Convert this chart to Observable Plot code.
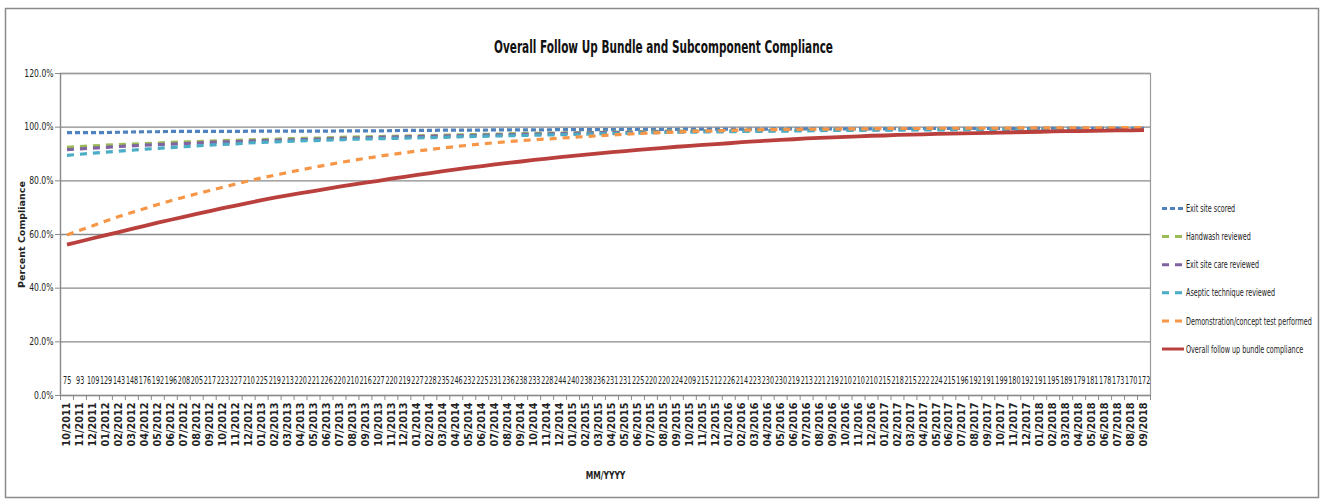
<!DOCTYPE html>
<html><head><meta charset="utf-8">
<script src="https://cdn.jsdelivr.net/npm/d3@7"></script>
<script src="https://cdn.jsdelivr.net/npm/@observablehq/plot@0.6"></script>
<style>html,body{margin:0;padding:0;background:#fff} svg{display:block}</style>
</head><body><div id="chart"></div>
<script>
const months = ["10/2011","11/2011","12/2011",
"01/2012","02/2012","03/2012","04/2012","05/2012","06/2012","07/2012","08/2012","09/2012","10/2012","11/2012","12/2012",
"01/2013","02/2013","03/2013","04/2013","05/2013","06/2013","07/2013","08/2013","09/2013","10/2013","11/2013","12/2013",
"01/2014","02/2014","03/2014","04/2014","05/2014","06/2014","07/2014","08/2014","09/2014","10/2014","11/2014","12/2014",
"01/2015","02/2015","03/2015","04/2015","05/2015","06/2015","07/2015","08/2015","09/2015","10/2015","11/2015","12/2015",
"01/2016","02/2016","03/2016","04/2016","05/2016","06/2016","07/2016","08/2016","09/2016","10/2016","11/2016","12/2016",
"01/2017","02/2017","03/2017","04/2017","05/2017","06/2017","07/2017","08/2017","09/2017","10/2017","11/2017","12/2017",
"01/2018","02/2018","03/2018","04/2018","05/2018","06/2018","07/2018","08/2018","09/2018"];

const counts = [75,93,109,129,143,148,176,192,196,208,205,217,223,227,210,225,219,213,220,221,226,220,210,216,227,220,219,227,228,235,246,232,225,231,236,238,233,228,244,240,238,236,231,231,225,220,220,224,209,215,212,226,214,223,230,230,219,213,221,219,210,210,210,215,218,215,222,224,215,196,192,191,199,180,192,191,195,189,179,181,178,173,170,172];

const exitSiteScored = [98.0,98.0,98.0,98.0,98.1,98.2,98.3,98.3,98.4,98.4,98.4,98.4,98.4,98.4,98.5,98.5,98.5,98.5,98.5,98.5,98.5,98.6,98.6,98.6,98.6,98.7,98.8,98.8,98.8,98.9,98.9,98.9,98.9,99.0,99.0,99.0,99.0,99.0,99.1,99.1,99.1,99.1,99.1,99.2,99.2,99.2,99.2,99.2,99.3,99.3,99.3,99.3,99.3,99.3,99.3,99.4,99.4,99.4,99.4,99.4,99.4,99.4,99.4,99.4,99.5,99.5,99.5,99.5,99.5,99.5,99.5,99.5,99.5,99.5,99.5,99.6,99.6,99.6,99.6,99.6,99.6,99.6,99.6,99.6];

const handwashReviewed = [92.5,92.8,93.0,93.3,93.5,93.7,93.9,94.1,94.3,94.5,94.6,94.8,95.0,95.1,95.3,95.4,
95.5,95.7,95.8,95.9,96.0,96.2,96.3,96.4,96.5,96.6,96.7,96.8,96.9,97.0,97.1,
97.2,97.3,97.4,97.5,97.6,97.7,97.8,97.8,97.9,98.0,98.1,98.2,98.2,98.3,98.4,
98.5,98.5,98.6,98.6,98.7,98.7,98.8,98.8,98.9,98.9,99.0,99.0,99.0,99.1,
99.1,99.1,99.2,99.2,99.2,99.2,99.3,99.3,99.3,99.3,99.4,99.4,99.4,99.4,99.4,99.5,99.5,99.5,99.5,99.5,99.5,99.6,99.6,99.6];

const exitSiteCareReviewed = [91.6,91.9,92.2,92.5,92.8,93.0,93.3,93.5,93.7,93.9,94.1,94.3,94.5,94.6,94.8,94.9,
95.1,95.2,95.4,95.5,95.6,95.8,95.9,96.0,96.2,96.3,96.4,96.5,96.6,96.7,96.8,
96.9,97.0,97.1,97.2,97.3,97.4,97.5,97.6,97.7,97.8,97.9,98.0,98.0,98.1,98.2,
98.3,98.3,98.4,98.4,98.5,98.5,98.6,98.6,98.7,98.7,98.8,98.8,98.9,98.9,
99.0,99.0,99.0,99.1,99.1,99.1,99.2,99.2,99.2,99.2,99.3,99.3,99.3,99.3,99.3,99.4,99.4,99.4,99.4,99.4,99.4,99.5,99.5,99.5];

const asepticTechniqueReviewed = [89.5,89.9,90.3,90.7,91.1,91.4,91.8,92.1,92.4,92.7,93.0,93.3,93.6,93.8,94.1,94.3,
94.5,94.7,94.9,95.0,95.2,95.3,95.5,95.6,95.7,95.8,95.9,96.0,96.1,96.2,96.4,
96.5,96.6,96.7,96.8,96.9,97.0,97.1,97.2,97.3,97.4,97.5,97.6,97.7,97.8,98.0,
98.0,98.1,98.1,98.2,98.2,98.3,98.4,98.4,98.5,98.5,98.6,98.6,98.7,98.8,
98.8,98.8,98.9,98.9,98.9,99.0,99.0,99.0,99.0,99.1,99.1,99.1,99.1,99.2,99.2,99.2,99.2,99.3,99.3,99.3,99.3,99.3,99.4,99.4];

const demonstrationTest = [59.8,61.6,63.3,65.0,66.7,68.2,69.7,71.2,72.6,73.9,75.2,76.4,77.6,78.8,80.0,81.1,
82.1,83.1,84.1,85.0,85.9,86.8,87.6,88.4,89.1,89.8,90.5,91.1,91.7,92.3,92.8,
93.3,93.8,94.2,94.6,95.0,95.3,95.6,95.9,96.2,96.5,96.8,97.1,97.4,97.6,97.8,
98.0,98.2,98.4,98.5,98.6,98.8,98.9,99.0,99.1,99.1,99.2,99.2,99.3,99.3,
99.4,99.4,99.4,99.5,99.5,99.5,99.5,99.6,99.6,99.6,99.6,99.6,99.6,99.7,99.7,99.7,99.7,99.7,99.7,99.7,99.7,99.8,99.8,99.8];

const overallBundle = [56.2,57.4,58.6,59.8,60.9,62.1,63.2,64.4,65.5,66.6,67.7,68.7,69.8,70.8,71.8,72.8,
73.7,74.6,75.4,76.2,77.0,77.8,78.6,79.3,80.0,80.8,81.5,82.2,82.9,83.6,84.3,
84.9,85.5,86.1,86.7,87.2,87.8,88.3,88.8,89.3,89.8,90.2,90.7,91.1,91.5,91.9,
92.3,92.7,93.0,93.4,93.7,94.0,94.4,94.7,95.0,95.3,95.5,95.8,96.0,96.2,
96.4,96.6,96.8,96.9,97.1,97.2,97.3,97.5,97.6,97.7,97.8,97.9,98.0,98.1,98.2,98.3,98.4,98.5,98.5,98.6,98.7,98.8,98.8,98.9];

const seriesNames = ["Exit site scored","Handwash reviewed","Exit site care reviewed","Aseptic technique reviewed","Demonstration/concept test performed","Overall follow up bundle compliance"];
const seriesValues = [exitSiteScored, handwashReviewed, exitSiteCareReviewed, asepticTechniqueReviewed, demonstrationTest, overallBundle];
const seriesColors = ["#4F81BD","#9BBB59","#8064A2","#4BACC6","#F79646","#B9403D"];
const seriesDash = ["5,3","7,6","7,6","7,6","7,6",null];
const yTicks = [0,0.2,0.4,0.6,0.8,1.0,1.2];

const idx = months.map((m,i)=>i+1);
const rows = seriesNames.map((name,k)=>seriesValues[k].map((v,i)=>({month:i+1, value:v/100, series:name})));
const countRows = counts.map((c,i)=>({month:i+1, n:String(c)}));

const narrow = "'Liberation Sans Narrow','Arial Narrow','DejaVu Sans Condensed',sans-serif";
const wide = "'DejaVu Sans',Verdana,sans-serif";

const lineMarks = seriesNames.map((name,k)=>Plot.line(rows[k], {
  x:"month", y:"value", stroke: seriesColors[k],
  strokeWidth: k===5 ? 3.8 : 3.2,
  strokeDasharray: seriesDash[k] ?? undefined,
  strokeLinecap: "butt"
}));

const chart = Plot.plot({
  width: 1320, height: 499,
  marginLeft: 60, marginRight: 170, marginTop: 73, marginBottom: 104,
  style: {fontFamily: narrow, fontSize: "10px", color: "#222", background: "#fff", overflow: "visible"},
  x: {type: "linear", domain: [0.5, 84.5], label: null},
  y: {domain: [0, 1.2], label: null},
  marks: [
    Plot.gridY(yTicks.slice(1), {stroke: "#8a8a8a", strokeOpacity: 1, strokeWidth: 1.3}),
    Plot.frame({stroke: "#9a9a9a", strokeWidth: 1.2}),
    Plot.ruleY([0], {stroke: "#8a8a8a", strokeWidth: 1.3}),
    Plot.ruleX([0.5], {stroke: "#8a8a8a", strokeWidth: 1.3}),
    Plot.axisY({ticks: yTicks, tickFormat: d3.format(".1%"), tickSize: 5, tickPadding: 2, stroke:"#8a8a8a", fontSize: 10, label: null, className: "yax"}),
    Plot.axisX({ticks: d3.range(0.5, 85, 1), tickSize: 5, tickFormat: () => "", stroke:"#8a8a8a", label: null}),
    Plot.axisX({ticks: idx, tickSize: 0, tickPadding: 7, tickRotate: -90, tickFormat: i => months[i-1],
      fontFamily: wide, fontWeight: "bold", fontSize: 9.7, label: null}),
    Plot.text(countRows, {x: "month", text: "n", frameAnchor: "bottom", dy: -12, fontSize: 10.5, fill: "#222", className: "cnt"}),
    ...lineMarks,
    Plot.text(["Percent Compliance"], {frameAnchor: "left", textAnchor: "middle", dx: -39, rotate: -90, fontFamily: wide, fontWeight: "bold", fontSize: 9.5, fill: "#222"}),
    Plot.text(["MM/YYYY"], {frameAnchor: "bottom", dy: 83, fontWeight: "bold", fontSize: 10.5, fill: "#222", className: "xlab"}),
    Plot.text(["Overall Follow Up Bundle and Subcomponent Compliance"], {frameAnchor: "top", dx: 58, dy: -33, fontWeight: "bold", fontSize: 18, fill: "#111", className: "ttl"})
  ]
});

document.getElementById("chart").appendChild(chart);
const svg = d3.select(chart);

// compress title to match original condensed face
svg.selectAll(".ttl text").attr("textLength", 339).attr("lengthAdjust", "spacingAndGlyphs");
// squeeze each count label horizontally (about its centre) so it fits its month slot, as in the original
svg.selectAll(".cnt text").each(function(){
  const r = this.getBoundingClientRect();
  const target = this.textContent.length * 4.1;
  const sx = target / r.width;
  const cx = r.x + r.width / 2;
  const old = this.getAttribute("transform") || "";
  this.setAttribute("transform", `translate(${cx},0) scale(${sx},1) translate(${-cx},0) ${old}`);
});
// condensed y tick labels and x title
svg.selectAll(".yax text").each(function(){
  const w = this.getComputedTextLength();
  d3.select(this).attr("textLength", w * 0.85).attr("lengthAdjust", "spacingAndGlyphs");
});
svg.selectAll(".xlab text").each(function(){
  const w = this.getComputedTextLength();
  d3.select(this).attr("textLength", w * 0.8).attr("lengthAdjust", "spacingAndGlyphs");
});

// outer chart border
svg.insert("rect", ":first-child").attr("x", 5.5).attr("y", 8.5).attr("width", 1313).attr("height", 489)
  .attr("fill", "none").attr("stroke", "#8a8a8a").attr("stroke-width", 1.5);

// legend
const lg = svg.append("g").attr("font-family", narrow).attr("font-size", 10.5).attr("fill", "#222").attr("text-anchor", "start");
const legendTexts = [];
seriesNames.forEach((name,k)=>{
  const y = 208.5 + k*28.1;
  lg.append("line").attr("x1",1162).attr("x2",1184).attr("y1",y).attr("y2",y)
    .attr("stroke",seriesColors[k]).attr("stroke-width",3)
    .attr("stroke-dasharray",seriesDash[k]);
  legendTexts.push({y, node: lg.append("text").attr("x",0).attr("y",0).attr("dy","0.35em").attr("text-anchor","start").text(name).node()});
});
const longest = legendTexts[4].node.getComputedTextLength();
const squeeze = 126 / longest;
legendTexts.forEach(t => {
  t.node.setAttribute("transform", `translate(1186,${t.y}) scale(${squeeze},1)`);
});
</script>
</body></html>
